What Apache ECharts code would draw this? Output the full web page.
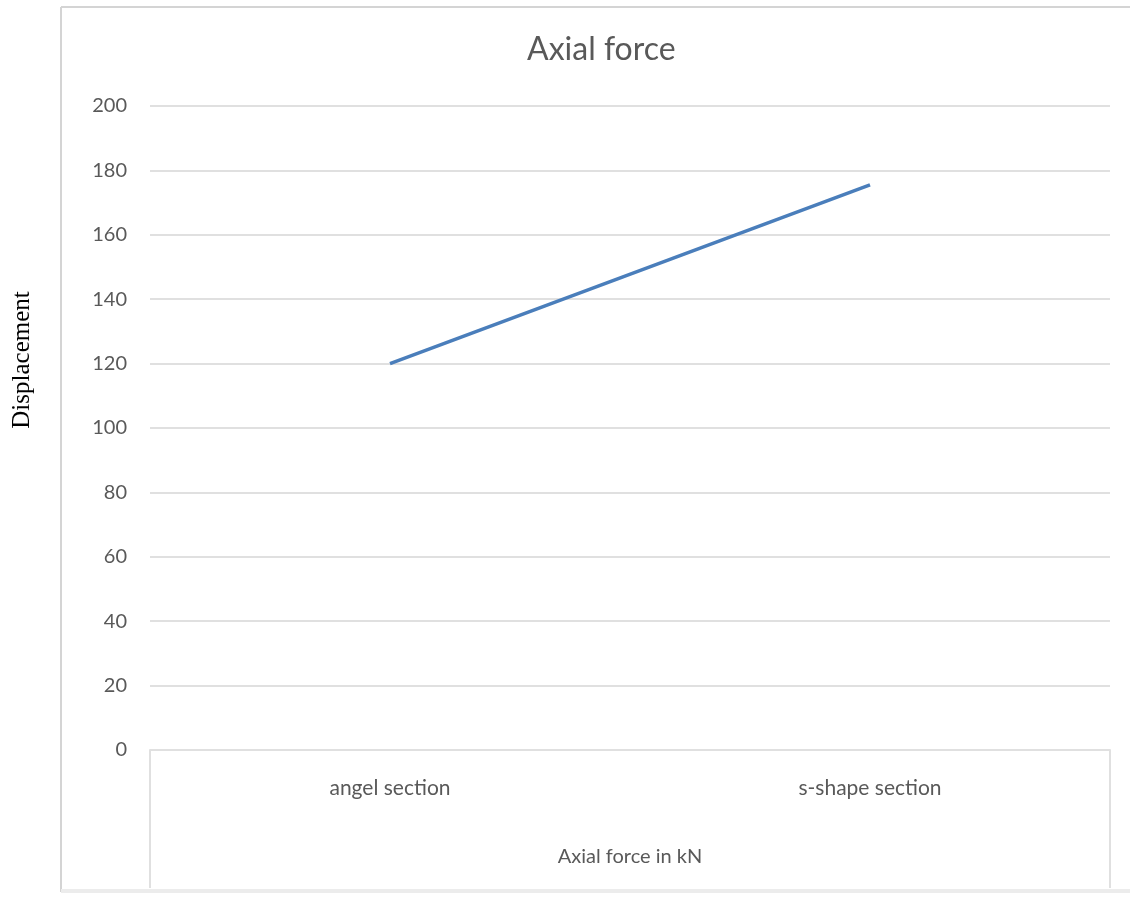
<!DOCTYPE html>
<html>
<head>
<meta charset="utf-8">
<script src="https://cdn.jsdelivr.net/npm/echarts@6/dist/echarts.min.js"></script>
<style>html,body{margin:0;padding:0;background:#fff}#c{width:1130px;height:899px}</style>
</head>
<body>
<div id="c"></div>
<script>
const categories = ['angel section', 's-shape section'];
const displacement = [120, 175.5];
const yTicks = { min: 0, max: 200, interval: 20 };

const G = { left: 150, right: 20, top: 106, bottom: 149 };
const W = 1130, H = 899;
const chart = echarts.init(document.getElementById('c'), null, { renderer: 'canvas' });
const gridColor = '#e0e0e0';
chart.setOption({
  backgroundColor: '#fff',
  animation: false,
  title: {
    text: 'Axial force', left: 522, top: 29,
    textStyle: { fontFamily: 'Lato', fontWeight: 'normal', fontSize: 32, color: '#595959' }
  },
  grid: { left: G.left, right: G.right, top: G.top, bottom: G.bottom, containLabel: false },
  xAxis: {
    type: 'category', data: categories, boundaryGap: true,
    name: 'Axial force in kN', nameLocation: 'middle', nameGap: 97,
    nameTextStyle: { fontFamily: 'Lato', fontSize: 20, color: '#595959' },
    axisLine: { lineStyle: { color: gridColor, width: 2 } },
    axisTick: { show: false },
    axisLabel: { margin: 28, fontFamily: 'Lato', fontSize: 21, color: '#595959' }
  },
  yAxis: {
    type: 'value', min: yTicks.min, max: yTicks.max, interval: yTicks.interval,
    axisLine: { show: false }, axisTick: { show: false },
    axisLabel: { margin: 23, fontFamily: 'Lato', fontSize: 20, color: '#595959' },
    splitLine: { lineStyle: { color: gridColor, width: 2 } }
  },
  series: [{
    type: 'line', data: displacement, showSymbol: false, symbol: 'none',
    lineStyle: { color: '#4a7ebb', width: 3.5 }
  }],
  graphic: [
    { type: 'line', shape: { x1: 61, y1: 7, x2: 61, y2: 892 }, style: { stroke: '#d4d4d4', lineWidth: 2 } },
    { type: 'line', shape: { x1: 61, y1: 7, x2: W, y2: 7 }, style: { stroke: '#d4d4d4', lineWidth: 2 } },
    { type: 'line', shape: { x1: 61, y1: 891, x2: W, y2: 891 }, style: { stroke: '#ececec', lineWidth: 4 } },
    { type: 'line', shape: { x1: G.left, y1: H - G.bottom, x2: G.left, y2: 888 }, style: { stroke: gridColor, lineWidth: 2 } },
    { type: 'line', shape: { x1: W - G.right, y1: H - G.bottom, x2: W - G.right, y2: 888 }, style: { stroke: gridColor, lineWidth: 2 } },
    { type: 'text', x: 22, y: 360, rotation: Math.PI / 2,
      style: { text: 'Displacement', fontFamily: 'Liberation Serif', fontSize: 25, fill: '#000', align: 'center', verticalAlign: 'middle' } }
  ]
});
</script>
</body>
</html>
